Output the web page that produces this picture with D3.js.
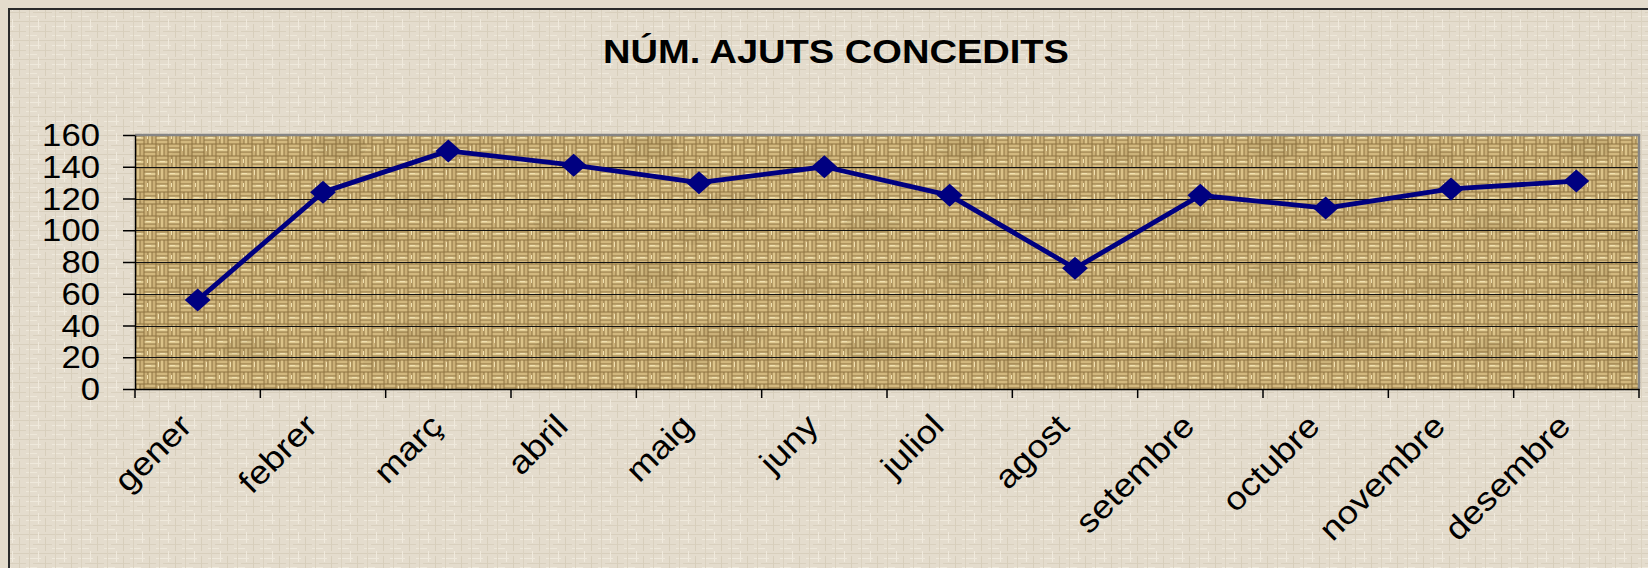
<!DOCTYPE html>
<html>
<head>
<meta charset="utf-8">
<script src="https://cdn.jsdelivr.net/npm/d3@7"></script>
<style>
  html, body { margin: 0; padding: 0; background: #e4dccc; }
  svg { display: block; }
  text { font-family: "Liberation Sans", Arial, sans-serif; fill: #000; }
</style>
</head>
<body>
<svg id="chart" width="1648" height="568"></svg>
<script>
// ---- data ----
const categories = ["gener", "febrer", "març", "abril", "maig", "juny", "juliol", "agost", "setembre", "octubre", "novembre", "desembre"];
const values = [56, 124, 150, 141, 130, 140, 122, 76, 122, 114, 126, 131];
const yTicks = [0, 20, 40, 60, 80, 100, 120, 140, 160];
const title = "NÚM. AJUTS CONCEDITS";

// ---- layout ----
const W = 1648, H = 568;
const plot = { left: 135, top: 135, right: 1639, bottom: 389 };
const SX = 1.12; // horizontal stretch of the original picture

const svg = d3.select("#chart");
const defs = svg.append("defs");

// outer linen texture
const pOuter = defs.append("pattern").attr("id", "linen").attr("patternUnits", "userSpaceOnUse")
  .attr("width", 26).attr("height", 19);
pOuter.append("rect").attr("width", 26).attr("height", 19).attr("fill", "#e4dccd");
[[0, 2, 26, 1, "#d8cfbd"], [0, 7, 15, 1, "#efe9dc"], [7, 12, 19, 1, "#d9d0be"], [0, 16, 11, 1, "#eee8da"]]
  .forEach(d => pOuter.append("rect").attr("x", d[0]).attr("y", d[1]).attr("width", d[2]).attr("height", d[3]).attr("fill", d[4]));
[[3, 0, 1, 19, "#dbd2c0"], [12, 0, 1, 11, "#f0eadd"], [19, 5, 1, 14, "#d7cebb"]]
  .forEach(d => pOuter.append("rect").attr("x", d[0]).attr("y", d[1]).attr("width", d[2]).attr("height", d[3]).attr("fill", d[4]));

// burlap basket-weave texture for plot area
const pPlot = defs.append("pattern").attr("id", "weave").attr("patternUnits", "userSpaceOnUse")
  .attr("width", 24).attr("height", 24);
pPlot.append("rect").attr("width", 24).attr("height", 24).attr("fill", "#8e7240");
const strands = [];
[[0, 0], [12, 12]].forEach(([ox, oy]) => [0, 4, 8].forEach((k, j) =>
  strands.push([ox + 0.5, oy + k + 0.5, 11, 3, j === 1 ? "#e2cc93" : "#d2b87e"])));
[[12, 0], [0, 12]].forEach(([ox, oy]) => [0, 4, 8].forEach((k, j) =>
  strands.push([ox + k + 0.5, oy + 0.5, 3, 11, j === 1 ? "#dcc48a" : "#cbb077"])));
strands.forEach(d => pPlot.append("rect").attr("x", d[0]).attr("y", d[1]).attr("width", d[2]).attr("height", d[3]).attr("fill", d[4]));
[[2, 5, 5, 1], [14, 2, 1, 5], [3, 15, 1, 4], [16, 17, 5, 1]]
  .forEach(d => pPlot.append("rect").attr("x", d[0]).attr("y", d[1]).attr("width", d[2]).attr("height", d[3]).attr("fill", "#f1e1b1"));

// subtle large-scale mottling
const pMottle = defs.append("pattern").attr("id", "mottle").attr("patternUnits", "userSpaceOnUse")
  .attr("width", 311).attr("height", 127);
[[30, 20, 26, 12, 0.07], [110, 80, 34, 14, 0.06], [190, 30, 20, 9, 0.05], [250, 95, 28, 11, 0.07], [70, 110, 18, 8, 0.05]]
  .forEach(d => pMottle.append("ellipse").attr("cx", d[0]).attr("cy", d[1]).attr("rx", d[2]).attr("ry", d[3])
    .attr("fill", "#4a3512").attr("opacity", d[4]));

// background
svg.append("rect").attr("x", 0).attr("y", 0).attr("width", W).attr("height", H).attr("fill", "#e4dccc");
svg.append("rect").attr("x", 9).attr("y", 9).attr("width", W - 9).attr("height", H - 9).attr("fill", "url(#linen)");
svg.append("path").attr("d", `M9,${H + 5} V9 H${W + 5}`).attr("fill", "none").attr("stroke", "#2a2a2a").attr("stroke-width", 2);

// scales
const x = d3.scaleBand().domain(categories).range([plot.left, plot.right]).paddingInner(0).paddingOuter(0);
const y = d3.scaleLinear().domain([0, 160]).range([plot.bottom, plot.top]);

// plot area
["url(#weave)", "url(#mottle)"].forEach(f =>
  svg.append("rect").attr("x", plot.left).attr("y", plot.top)
    .attr("width", plot.right - plot.left).attr("height", plot.bottom - plot.top)
    .attr("fill", f));

// gridlines
svg.append("g").selectAll("line").data(yTicks.filter(t => t > 0 && t < 160)).join("line")
  .attr("x1", plot.left).attr("x2", plot.right)
  .attr("y1", d => Math.round(y(d)) + 0.5).attr("y2", d => Math.round(y(d)) + 0.5)
  .attr("stroke", "#111").attr("stroke-width", 1.2);

// plot border top/right (grey)
svg.append("path").attr("d", `M${plot.left},${plot.top} H${plot.right} V${plot.bottom}`)
  .attr("fill", "none").attr("stroke", "#858585").attr("stroke-width", 2.5);

// y axis
const yAxis = d3.axisLeft(y).tickValues(yTicks).tickSize(12).tickSizeOuter(0).tickFormat("");
const gy = svg.append("g").attr("transform", `translate(${plot.left},0)`).call(yAxis);
gy.select(".domain").attr("stroke", "#000").attr("stroke-width", 1.5);
gy.selectAll(".tick line").attr("stroke", "#000").attr("stroke-width", 1.5);
svg.append("g").selectAll("text").data(yTicks).join("text")
  .attr("transform", d => `translate(100,${y(d) + 11}) scale(${SX},1)`)
  .attr("text-anchor", "end").attr("font-size", 31).text(d => d);

// x axis
const xAxis = d3.axisBottom(x).tickSize(0).tickSizeOuter(0).tickFormat("");
const gx = svg.append("g").attr("transform", `translate(0,${plot.bottom})`).call(xAxis);
gx.select(".domain").attr("stroke", "#000").attr("stroke-width", 1.5);
const bounds = categories.map(c => x(c)).concat([plot.right]);
svg.append("g").selectAll("line").data(bounds).join("line")
  .attr("x1", d => d).attr("x2", d => d)
  .attr("y1", plot.bottom).attr("y2", plot.bottom + 9)
  .attr("stroke", "#000").attr("stroke-width", 1.5);
svg.append("g").selectAll("text").data(categories).join("text")
  .attr("transform", d => `translate(${x(d) + x.bandwidth() / 2 - 4},${plot.bottom + 39}) rotate(-45) scale(${SX},1)`)
  .attr("text-anchor", "end").attr("font-size", 32.5).text(d => d);

// line
const cx = d => x(d) + x.bandwidth() / 2;
const line = d3.line().x((d, i) => cx(categories[i])).y(d => y(d));
svg.append("path").datum(values).attr("d", line)
  .attr("fill", "none").attr("stroke", "#000080").attr("stroke-width", 4.8).attr("stroke-linejoin", "round");

// diamond markers
svg.append("g").selectAll("path").data(values).join("path")
  .attr("transform", (d, i) => `translate(${cx(categories[i])},${y(d)}) scale(${SX},1)`)
  .attr("d", "M0,-11.5 L11.5,0 L0,11.5 L-11.5,0 Z")
  .attr("fill", "#000080");

// title
svg.append("text")
  .attr("transform", `translate(836,62.5) scale(${SX},1)`)
  .attr("text-anchor", "middle").attr("font-size", 34).attr("font-weight", "bold")
  .text(title);
</script>
</body>
</html>
